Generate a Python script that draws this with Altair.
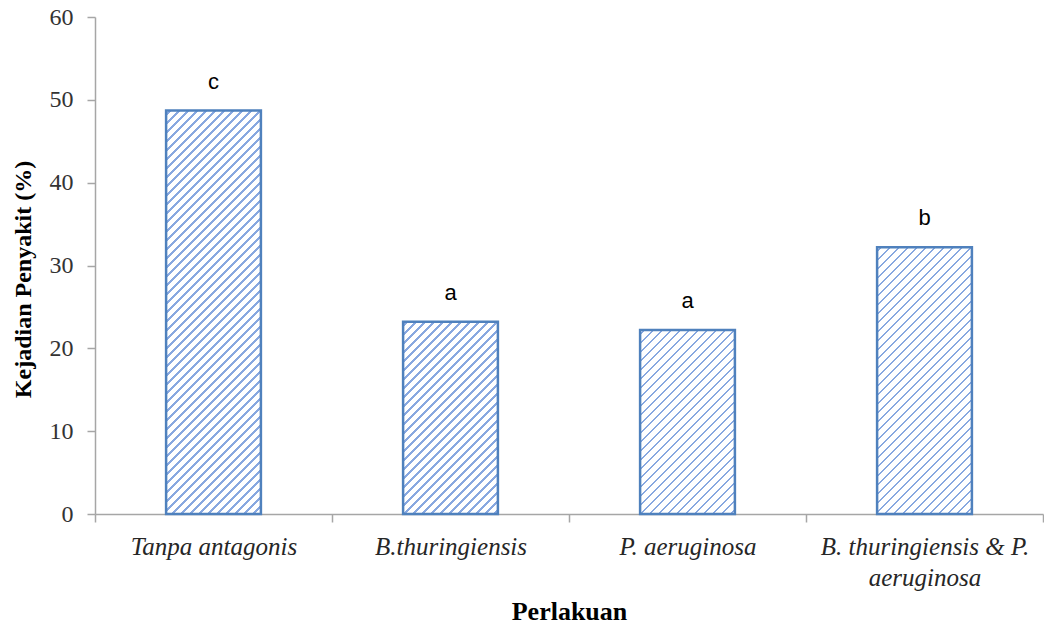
import altair as alt
import pandas as pd

categories = ["Tanpa antagonis", "B.thuringiensis", "P. aeruginosa", "B. thuringiensis & P.\naeruginosa"]
values = [48.7, 23.2, 22.2, 32.2]
letters = ["c", "a", "a", "b"]
y_ticks = [0, 10, 20, 30, 40, 50, 60]

df = pd.DataFrame({"cat": categories, "val": values, "lab": letters})

W, H = 948, 497
YMAX = 60
BAR_FRAC = 0.4
bar_w = W / len(categories) * BAR_FRAC


def hatch(h, w=bar_w, period=9.0, th=2.4, line="#88a8e0"):
    """Diagonal '/' stripe texture as a linear gradient (styling only)."""
    L = w + h
    a = L * w / (w * w + h * h)
    stops = [{"offset": 0, "color": "white"}]
    k = 0
    while True:
        s = (k * period + 3) / L
        e = s + th / L
        if e >= 1:
            break
        stops += [
            {"offset": s, "color": "white"},
            {"offset": s, "color": line},
            {"offset": e, "color": line},
            {"offset": e, "color": "white"},
        ]
        k += 1
    stops.append({"offset": 1, "color": "white"})
    return {"gradient": "linear", "x1": 0, "y1": 0, "x2": a, "y2": a * h / w, "stops": stops}


x_enc = alt.X(
    "cat:N",
    sort=categories,
    scale=alt.Scale(paddingInner=0, paddingOuter=0),
    axis=alt.Axis(
        title="Perlakuan",
        titleFont="Liberation Serif",
        titleFontSize=26,
        titleFontWeight="bold",
        titleColor="black",
        titleX=474,
        titleY=105,
        titleBaseline="alphabetic",
        titleAlign="center",
        labelAngle=0,
        labelFont="Liberation Serif",
        labelFontStyle="italic",
        labelFontSize=25,
        labelColor="#262626",
        labelLineHeight=31,
        labelBaseline="alphabetic",
        labelPadding=32,
        labelOverlap=False,
        labelLimit=400,
        labelExpr="split(datum.label, '\\n')",
        tickBand="extent",
        tickSize=8,
        tickColor="#a6a6a6",
        tickWidth=1.5,
        domainColor="#a6a6a6",
        domainWidth=1.5,
    ),
)

y_enc = alt.Y(
    "val:Q",
    scale=alt.Scale(domain=[0, YMAX], nice=False),
    axis=alt.Axis(
        values=y_ticks,
        grid=False,
        tickSize=8,
        tickColor="#a6a6a6",
        tickWidth=1.5,
        domainColor="#a6a6a6",
        domainWidth=1.5,
        labelPadding=14,
        labelFont="Liberation Serif",
        labelFontSize=24,
        labelColor="#333333",
        title="Kejadian Penyakit (%)",
        titleFont="Liberation Serif",
        titleFontSize=24,
        titleFontWeight="bold",
        titleColor="black",
        titleAngle=270,
        titleX=-72,
        titleY=262,
        titleBaseline="middle",
        titleAlign="center",
    ),
)

base = alt.Chart(df).encode(x=x_enc, y=y_enc)

layers = []
for cat, v in zip(categories, values):
    h = v / YMAX * H
    layers.append(
        base.transform_filter(alt.FieldEqualPredicate(field="cat", equal=cat)).mark_bar(
            fill=hatch(h),
            stroke="#4f81bd",
            strokeWidth=2.5,
            width=alt.RelativeBandSize(BAR_FRAC),
        )
    )

text = base.mark_text(
    dy=-22,
    baseline="alphabetic",
    font="Liberation Sans",
    fontSize=22,
    color="black",
).encode(text="lab:N")

chart = (
    alt.layer(*layers, text)
    .properties(
        width=W,
        height=H,
        padding={"left": 95, "top": 17, "right": 1, "bottom": 112},
        autosize=alt.AutoSizeParams(type="none"),
        background="white",
    )
    .configure_view(stroke=None)
)

chart.save("out.html", embed_options={"renderer": "svg", "actions": False})
